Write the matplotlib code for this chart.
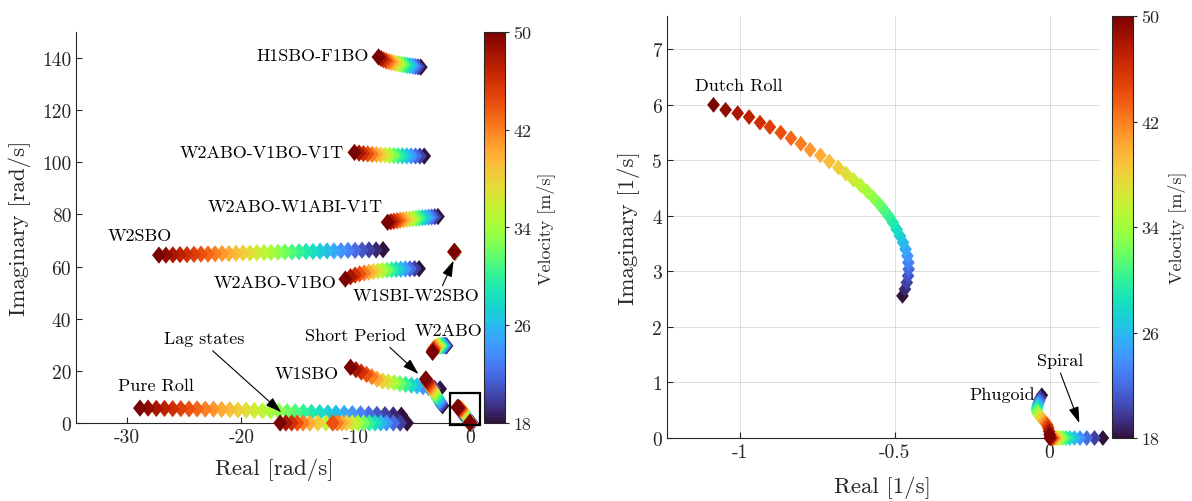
import numpy as np
import matplotlib
matplotlib.use('Agg')
import matplotlib.pyplot as plt
from matplotlib.patches import Rectangle

plt.rcParams['font.family'] = 'cmr10'
plt.rcParams['mathtext.fontset'] = 'cm'
plt.rcParams['axes.unicode_minus'] = False

# velocities [m/s]
V33 = [18, 19, 20, 21, 22, 23, 24, 25, 26, 27, 28, 29, 30, 31, 32, 33, 34,
       35, 36, 37, 38, 39, 40, 41, 42, 43, 44, 45, 46, 47, 48, 49, 50]
V17 = [18, 20, 22, 24, 26, 28, 30, 32, 34, 36, 38, 40, 42, 44, 46, 48, 50]

h1sbo_re = [-4.30, -4.53, -4.76, -5.00, -5.23, -5.46, -5.70, -5.93, -6.16,
            -6.39, -6.62, -6.85, -7.08, -7.31, -7.54, -7.77, -8.00]
h1sbo_im = [136.5, 136.6, 136.75, 136.9, 137.05, 137.2, 137.35, 137.5, 137.7,
            137.9, 138.1, 138.35, 138.6, 138.9, 139.3, 139.8, 140.4]

w2v1t_re = [-4.00, -4.38, -4.76, -5.14, -5.52, -5.90, -6.28, -6.66, -7.04,
            -7.42, -7.80, -8.18, -8.56, -8.94, -9.32, -9.70, -10.10]
w2v1t_im = [102.4, 102.4, 102.4, 102.45, 102.5, 102.5, 102.55, 102.6, 102.7,
            102.75, 102.85, 102.95, 103.05, 103.2, 103.35, 103.55, 103.8]

w2w1_re = [-2.80, -3.07, -3.35, -3.62, -3.90, -4.17, -4.45, -4.72, -5.00,
           -5.27, -5.55, -5.82, -6.10, -6.37, -6.65, -6.92, -7.20]
w2w1_im = [79.2, 79.15, 79.05, 78.95, 78.85, 78.75, 78.65, 78.5, 78.4,
           78.25, 78.1, 77.95, 77.8, 77.6, 77.4, 77.2, 77.0]

w2sbo_re = [-7.60, -8.21, -8.83, -9.44, -10.05, -10.66, -11.28, -11.89, -12.50,
            -13.11, -13.73, -14.34, -14.95, -15.56, -16.18, -16.79, -17.40,
            -18.01, -18.63, -19.24, -19.85, -20.46, -21.08, -21.69, -22.30,
            -22.91, -23.53, -24.14, -24.75, -25.36, -25.98, -26.59, -27.20]
w2sbo_im = [66.5, 66.4, 66.4, 66.3, 66.2, 66.2, 66.1, 66.0, 66.0, 65.9, 65.8,
            65.8, 65.7, 65.6, 65.6, 65.5, 65.4, 65.4, 65.3, 65.2, 65.2, 65.1,
            65.0, 65.0, 64.9, 64.8, 64.8, 64.7, 64.6, 64.6, 64.5, 64.4, 64.4]

w2v1_re = [-4.45, -4.85, -5.25, -5.65, -6.05, -6.45, -6.85, -7.25, -7.65,
           -8.05, -8.45, -8.85, -9.25, -9.65, -10.05, -10.45, -10.90]
w2v1_im = [59.2, 59.2, 59.15, 59.1, 59.0, 58.9, 58.8, 58.65, 58.5,
           58.3, 58.1, 57.85, 57.55, 57.2, 56.75, 56.1, 55.2]

w1sbi_re = [-1.30, -1.30, -1.31, -1.31, -1.32, -1.32, -1.33, -1.33, -1.34,
            -1.34, -1.35, -1.35, -1.36, -1.36, -1.37, -1.37, -1.37]
w1sbi_im = [65.5, 65.5, 65.5, 65.55, 65.55, 65.55, 65.6, 65.6, 65.6,
            65.6, 65.65, 65.65, 65.65, 65.7, 65.7, 65.7, 65.7]

w1sbo_re = [-2.61, -3.11, -3.61, -4.11, -4.62, -5.12, -5.63, -6.13, -6.63,
            -7.14, -7.64, -8.12, -8.58, -9.04, -9.51, -9.97, -10.44]
w1sbo_im = [13.08, 13.35, 13.66, 13.92, 14.23, 14.50, 14.81, 15.11, 15.46,
            15.80, 16.11, 16.84, 17.76, 18.64, 19.56, 20.45, 21.37]

sp_re = [-2.40, -2.49, -2.58, -2.67, -2.76, -2.85, -2.95, -3.04, -3.13,
         -3.22, -3.31, -3.40, -3.49, -3.58, -3.68, -3.77, -3.86]
sp_im = [6.6, 7.2, 7.9, 8.5, 9.2, 9.8, 10.5, 11.1, 11.8,
         12.4, 13.0, 13.7, 14.3, 15.0, 15.6, 16.3, 16.9]

w2abo_re = [-2.05, -2.12, -2.20, -2.28, -2.36, -2.45, -2.55, -2.65, -2.75,
            -2.85, -2.95, -3.05, -3.12, -3.18, -3.22, -3.25, -3.27]
w2abo_im = [29.6, 29.65, 29.7, 29.7, 29.7, 29.7, 29.65, 29.6, 29.5,
            29.4, 29.25, 29.0, 28.7, 28.3, 27.9, 27.5, 27.1]

roll_re = [-6.00, -6.71, -7.43, -8.14, -8.86, -9.57, -10.29, -11.00, -11.72,
           -12.43, -13.14, -13.86, -14.57, -15.29, -16.00, -16.72, -17.43,
           -18.15, -18.86, -19.57, -20.29, -21.00, -21.72, -22.43, -23.15,
           -23.86, -24.57, -25.29, -26.00, -26.72, -27.43, -28.15, -28.86]
roll_im = [3.0, 3.1, 3.2, 3.3, 3.4, 3.5, 3.6, 3.7, 3.8, 3.9, 4.0, 4.1, 4.2,
           4.3, 4.4, 4.5, 4.6, 4.7, 4.8, 4.9, 5.0, 5.1, 5.2, 5.3, 5.3, 5.4,
           5.4, 5.5, 5.5, 5.6, 5.6, 5.7, 5.7]

nan = np.nan
lag1_re = [nan, nan, nan, nan, nan, nan, nan, nan, nan,
           -12.6, -13.3, -14.0, -14.6, -15.1, -15.6, -16.1, -16.6]
lag2_re = [-5.5, -6.1, -6.7, -7.3, -7.8, -8.3, -8.8, -9.3, -9.8,
           -10.3, -10.8, -11.2, -11.6, -12.0, nan, nan, nan]
lag_im = [0.0] * 17

dutch_re = [-0.475, -0.467, -0.461, -0.457, -0.455, -0.456, -0.459, -0.465,
            -0.473, -0.483, -0.494, -0.506, -0.520, -0.535, -0.551, -0.569,
            -0.589, -0.610, -0.633, -0.657, -0.682, -0.711, -0.740, -0.773,
            -0.803, -0.835, -0.868, -0.903, -0.935, -0.970, -1.007, -1.046,
            -1.085]
dutch_im = [2.56, 2.68, 2.80, 2.92, 3.04, 3.16, 3.28, 3.40, 3.52, 3.64, 3.76,
            3.88, 4.00, 4.11, 4.22, 4.33, 4.44, 4.55, 4.65, 4.76, 4.87, 4.98,
            5.09, 5.19, 5.30, 5.40, 5.50, 5.60, 5.68, 5.78, 5.85, 5.91, 6.00]

phug_re = [-0.025, -0.030, -0.033, -0.036, -0.038, -0.040, -0.041, -0.040,
           -0.037, -0.032, -0.025, -0.018, -0.012, -0.007, -0.004, -0.002, 0.000]
phug_im = [0.77, 0.72, 0.67, 0.63, 0.59, 0.55, 0.51, 0.47, 0.43, 0.39, 0.35,
           0.31, 0.27, 0.23, 0.18, 0.12, 0.06]

spiral_re = [0.172, 0.145, 0.120, 0.098, 0.080, 0.065, 0.053, 0.043, 0.035,
             0.028, 0.022, 0.017, 0.013, 0.009, 0.006, 0.003, 0.000]
spiral_im = [0.0] * 17

left_modes = [
    (h1sbo_re, h1sbo_im, V17), (w2v1t_re, w2v1t_im, V17), (w2w1_re, w2w1_im, V17),
    (w2sbo_re, w2sbo_im, V33), (w2v1_re, w2v1_im, V17), (w1sbi_re, w1sbi_im, V17),
    (w1sbo_re, w1sbo_im, V17), (sp_re, sp_im, V17), (w2abo_re, w2abo_im, V17),
    (roll_re, roll_im, V33), (lag1_re, lag_im, V17), (lag2_re, lag_im, V17),
    (dutch_re, dutch_im, V33), (phug_re, phug_im, V17), (spiral_re, spiral_im, V17),
]
right_modes = [(dutch_re, dutch_im, V33), (phug_re, phug_im, V17),
               (spiral_re, spiral_im, V17)]


def collect(modes):
    # one scatter per panel, drawn in order of velocity like a sweep loop
    re = np.concatenate([np.asarray(m[0], float) for m in modes])
    im = np.concatenate([np.asarray(m[1], float) for m in modes])
    v = np.concatenate([np.asarray(m[2], float) for m in modes])
    ok = ~np.isnan(re)
    re, im, v = re[ok], im[ok], v[ok]
    idx = np.argsort(v, kind='stable')
    return re[idx], im[idx], v[idx]


diamond = [(0, 1), (0.8, 0), (0, -1), (-0.8, 0), (0, 1)]
gray = (0.15, 0.15, 0.15)

fig = plt.figure(figsize=(11.92, 5.02), dpi=100)
ax1 = fig.add_axes([0.0638, 0.1554, 0.3389, 0.7789])
cax1 = fig.add_axes([0.4060, 0.1554, 0.0176, 0.7789])
ax2 = fig.add_axes([0.5596, 0.1255, 0.3633, 0.8406])
cax2 = fig.add_axes([0.9325, 0.1255, 0.0180, 0.8406])

re, im, v = collect(left_modes)
sc1 = ax1.scatter(re, im, c=v, cmap='turbo', vmin=18, vmax=50, s=155,
                  marker=diamond, linewidths=0, clip_on=False, zorder=3)
re, im, v = collect(right_modes)
sc2 = ax2.scatter(re, im, c=v, cmap='turbo', vmin=18, vmax=50, s=130,
                  marker=diamond, linewidths=0, clip_on=False, zorder=3)

for ax in (ax1, ax2):
    ax.spines['top'].set_visible(False)
    ax.spines['right'].set_visible(False)
    for s in ('left', 'bottom'):
        ax.spines[s].set_color(gray)
        ax.spines[s].set_linewidth(0.8)
    ax.tick_params(direction='in', length=4, width=0.8, colors=gray,
                   labelsize=14, labelcolor=gray)

ax1.set_xlim(-34.45, 0.88)
ax1.set_ylim(0, 150)
ax1.set_xticks([-30, -20, -10, 0])
ax1.set_xticklabels(['-30', '-20', '-10', '0'])
ax1.set_yticks([0, 20, 40, 60, 80, 100, 120, 140])
ax1.set_xlabel('Real [rad/s]', fontsize=16.5, color=gray, va='center')
ax1.set_ylabel('Imaginary [rad/s]', fontsize=16.5, color=gray, va='center')
ax1.xaxis.set_label_coords(0.49, -0.118)
ax1.yaxis.set_label_coords(-0.139, 0.5)

ax2.set_xlim(-1.235, 0.163)
ax2.set_ylim(0, 7.6)
ax2.set_xticks([-1, -0.5, 0])
ax2.set_xticklabels(['-1', '-0.5', '0'])
ax2.set_yticks([0, 1, 2, 3, 4, 5, 6, 7])
ax2.grid(True, color=gray, alpha=0.15, linewidth=0.7)
ax2.set_axisbelow(True)
ax2.set_xlabel('Real [1/s]', fontsize=16.5, color=gray, va='center')
ax2.set_ylabel('Imaginary [1/s]', fontsize=16.5, color=gray, va='center')
ax2.xaxis.set_label_coords(0.497, -0.116)
ax2.yaxis.set_label_coords(-0.089, 0.5)

for cax, sc, lx in ((cax1, sc1, 2.95), (cax2, sc2, 3.05)):
    cb = fig.colorbar(sc, cax=cax, ticks=[18, 26, 34, 42, 50])
    cb.outline.set_edgecolor(gray)
    cb.outline.set_linewidth(0.8)
    cax.tick_params(direction='out', length=3, width=0.8, colors=gray,
                    labelsize=13, labelcolor=gray, pad=3)
    cb.set_label('Velocity [m/s]', fontsize=13, color=gray, va='center')
    cax.yaxis.set_label_coords(lx, 0.5)

# mode labels, left panel
txt = dict(fontsize=13, color='k')
ax1.text(-8.8, 141.0, 'H1SBO-F1BO', ha='right', va='center', **txt)
ax1.text(-11.0, 103.8, 'W2ABO-V1BO-V1T', ha='right', va='center', **txt)
ax1.text(-7.6, 83.3, 'W2ABO-W1ABI-V1T', ha='right', va='center', **txt)
ax1.text(-28.9, 71.8, 'W2SBO', ha='center', va='center', **txt)
ax1.text(-11.7, 54.0, 'W2ABO-V1BO', ha='right', va='center', **txt)
ax1.text(-4.7, 48.8, 'W1SBI-W2SBO', ha='center', va='center', **txt)
ax1.text(-23.2, 32.5, 'Lag states', ha='center', va='center', **txt)
ax1.text(-10.0, 33.5, 'Short Period', ha='center', va='center', **txt)
ax1.text(-1.9, 35.4, 'W2ABO', ha='center', va='center', **txt)
ax1.text(-11.5, 19.2, 'W1SBO', ha='right', va='center', **txt)
ax1.text(-27.5, 14.3, 'Pure Roll', ha='center', va='center', **txt)

arrow = dict(arrowstyle='-|>,head_length=0.7,head_width=0.22', color='k',
             lw=0.8, shrinkA=0, shrinkB=0, mutation_scale=14)
ax1.annotate('', xy=(-16.5, 4.1), xytext=(-22.5, 27.7), arrowprops=arrow)
ax1.annotate('', xy=(-4.5, 18.8), xytext=(-7.0, 29.0), arrowprops=arrow)
ax1.annotate('', xy=(-1.43, 62.3), xytext=(-2.4, 52.7), arrowprops=arrow)

ax1.add_patch(Rectangle((-1.75, -0.65), 2.63, 12.15, fill=False, ec='k',
                        lw=1.6, clip_on=False, zorder=4))

# mode labels, right panel
ax2.text(-1.005, 6.36, 'Dutch Roll', ha='center', va='center', **txt)
ax2.text(-0.047, 0.79, 'Phugoid', ha='right', va='center', **txt)
ax2.text(0.033, 1.39, 'Spiral', ha='center', va='center', **txt)
ax2.annotate('', xy=(0.096, 0.27), xytext=(0.035, 1.17), arrowprops=arrow)

fig.savefig('out.png', dpi=100)
